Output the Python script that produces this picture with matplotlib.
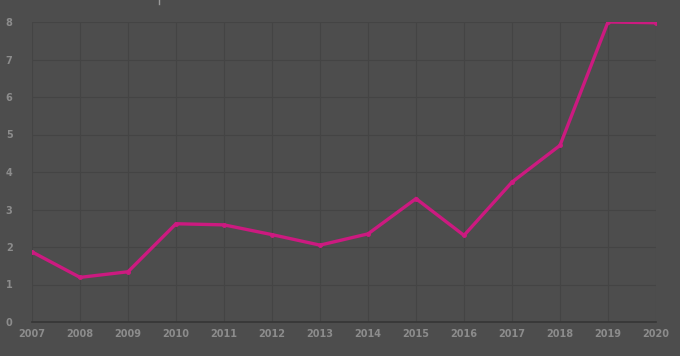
import numpy as np
import matplotlib
matplotlib.use('Agg')
import matplotlib.pyplot as plt
from matplotlib.lines import Line2D

years = [2007, 2008, 2009, 2010, 2011, 2012, 2013, 2014, 2015, 2016, 2017, 2018, 2019, 2020]
values = [1.87, 1.19, 1.34, 2.62, 2.59, 2.33, 2.05, 2.35, 3.29, 2.31, 3.73, 4.71, 8.0, 7.98]
yticks = [0, 1, 2, 3, 4, 5, 6, 7, 8]

bg = '#4d4d4d'
fig = plt.figure(figsize=(6.8, 3.56), dpi=100, facecolor=bg)
ax = fig.add_axes([32 / 680, 1 - 322 / 356, 624 / 680, 300 / 356])
ax.set_facecolor(bg)

ax.plot(years, values, color='#cc1a80', lw=2.4, marker='o', ms=2.5,
        solid_joinstyle='miter', zorder=3)

ax.set_xlim(years[0], years[-1])
ax.set_ylim(0, 8)
ax.set_xticks(years)
ax.set_yticks(yticks)
ax.grid(True, color='#444444', lw=0.8)
for side in ['top', 'right', 'left']:
    ax.spines[side].set_visible(False)
ax.spines['bottom'].set_color('#363636')
ax.spines['bottom'].set_linewidth(1.2)
ax.tick_params(length=0, colors='#8c8c8c', labelsize=7)
ax.tick_params(axis='x', pad=5)
ax.tick_params(axis='y', pad=14)
for lbl in ax.get_xticklabels() + ax.get_yticklabels():
    lbl.set_fontweight('bold')

# small tick mark at the top edge
fig.add_artist(Line2D([159 / 680, 159 / 680], [1, 1 - 4 / 356], color='#9a9a9a', lw=1))

fig.savefig('out.png', facecolor=bg)
